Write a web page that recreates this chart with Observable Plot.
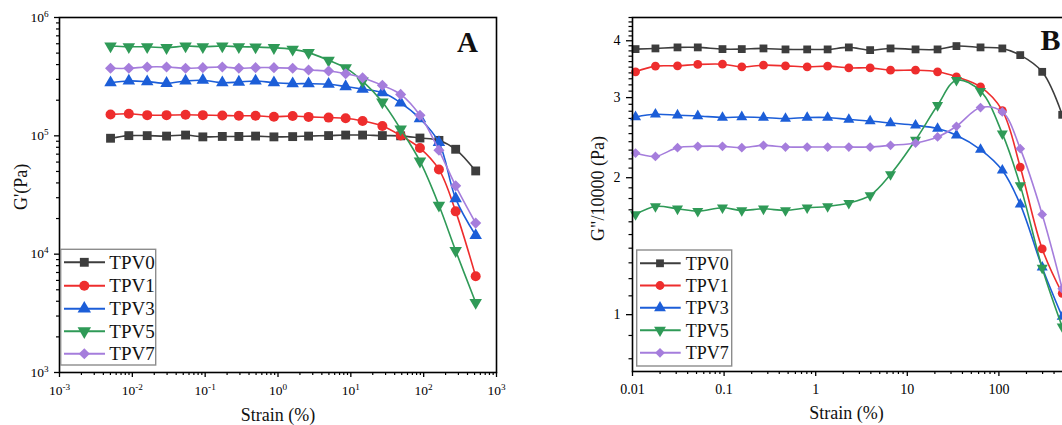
<!DOCTYPE html>
<html><head><meta charset="utf-8">
<script src="https://cdn.jsdelivr.net/npm/d3@7"></script>
<script src="https://cdn.jsdelivr.net/npm/@observablehq/plot@0.6"></script>
<style>
html,body{margin:0;padding:0;background:#fff;overflow:hidden;width:1062px;height:425px}
#wrap{position:relative;width:1062px;height:425px;overflow:hidden;background:#fff}
#a{position:absolute;left:0;top:0;width:540px;height:425px}
#b{position:absolute;left:540px;top:0;width:560px;height:425px}
#wrap svg{max-width:none !important;display:block}
#wrap svg text{font-family:"Liberation Serif","Times New Roman",serif !important}
</style></head><body><div id="wrap"><div id="a"></div><div id="b"></div></div>
<script>
// ---------- data ----------
const seriesNames = ["TPV0", "TPV1", "TPV3", "TPV5", "TPV7"];

// Panel A: storage modulus G' (Pa) vs strain (%)
const strainA = [0.00502, 0.00895, 0.0160, 0.0295, 0.0538, 0.0929, 0.172, 0.290, 0.492, 0.879, 1.59, 2.63, 4.95, 8.49, 14.5, 27.1, 48.3, 88.9, 162, 275, 518];
const gA_TPV0 = [95400, 100400, 100400, 99500, 101500, 98000, 98800, 98800, 99500, 98000, 98500, 99500, 100500, 101500, 101500, 100500, 100000, 95800, 91500, 77000, 50500];
const gA_TPV1 = [151700, 153500, 149600, 149600, 150600, 149600, 148700, 147700, 147700, 144800, 147000, 144600, 142600, 140800, 133600, 121000, 100500, 78800, 52000, 23000, 6500];
const gA_TPV3 = [281000, 291000, 287000, 278000, 291000, 295000, 281000, 285000, 291000, 281000, 276000, 276000, 273000, 261000, 248000, 232000, 190000, 140000, 88000, 29500, 14400];
const gA_TPV5 = [574000, 566000, 566000, 556000, 574000, 566000, 574000, 566000, 563000, 556000, 538000, 505000, 435000, 375000, 290000, 193000, 114000, 61000, 25900, 10700, 3900];
const gA_TPV7 = [372000, 372000, 382000, 382000, 372000, 377000, 382000, 372000, 377000, 377000, 372000, 360000, 353000, 335000, 310000, 267000, 224000, 149000, 75500, 37800, 18300];

// Panel B: loss modulus G''/10000 (Pa) vs strain (%)
const strainB = [0.0108, 0.0178, 0.031, 0.0516, 0.096, 0.156, 0.269, 0.468, 0.807, 1.35, 2.30, 3.93, 6.56, 12.3, 21.4, 34.4, 63.0, 109, 171, 297, 491];
const gB_TPV0 = [3.835, 3.848, 3.868, 3.868, 3.835, 3.835, 3.848, 3.829, 3.829, 3.829, 3.868, 3.815, 3.848, 3.829, 3.829, 3.894, 3.868, 3.848, 3.72, 3.418, 2.75];
const gB_TPV1 = [3.418, 3.518, 3.523, 3.548, 3.553, 3.505, 3.535, 3.523, 3.505, 3.518, 3.487, 3.487, 3.446, 3.446, 3.418, 3.332, 3.167, 2.81, 2.111, 1.395, 1.114];
const gB_TPV3 = [2.72, 2.757, 2.744, 2.734, 2.712, 2.72, 2.712, 2.698, 2.712, 2.712, 2.685, 2.665, 2.638, 2.607, 2.565, 2.48, 2.306, 2.076, 1.747, 1.27, 0.99];
const gB_TPV5 = [1.661, 1.729, 1.709, 1.689, 1.718, 1.695, 1.709, 1.695, 1.718, 1.729, 1.759, 1.829, 2.034, 2.42, 2.886, 3.277, 3.099, 2.50, 1.924, 1.267, 0.941];
const gB_TPV7 = [2.266, 2.228, 2.329, 2.344, 2.344, 2.329, 2.356, 2.336, 2.336, 2.336, 2.336, 2.336, 2.356, 2.384, 2.458, 2.595, 2.853, 2.79, 2.317, 1.661, 1.14];

// tick values / labels
const majorTicksAx = [1e-3, 1e-2, 1e-1, 1, 10, 100, 1000];
const majorTicksAy = [1e3, 1e4, 1e5, 1e6];
const majorTicksBx = [0.01, 0.1, 1, 10, 100];
const majorLabelsBx = ["0.01", "0.1", "1", "10", "100"];
const majorTicksBy = [1, 2, 3, 4];
const majorLabelsBy = ["1", "2", "3", "4"];

// ---------- styles ----------
const styles = {
  TPV0: {color: "#3d3d3d", symbol: "square", d3sym: d3.symbolSquare, rotate: 0},
  TPV1: {color: "#ee2d2d", symbol: "circle", d3sym: d3.symbolCircle, rotate: 0},
  TPV3: {color: "#1c5ed8", symbol: "triangle", d3sym: d3.symbolTriangle, rotate: 0},
  TPV5: {color: "#2f9a57", symbol: "triangle", d3sym: d3.symbolTriangle, rotate: 180},
  TPV7: {color: "#a57ddc", symbol: "diamond2", d3sym: d3.symbolDiamond2, rotate: 0}
};
const FONT = "Liberation Serif";

function minorLogTicks(lo, hi) {
  const out = [];
  for (let e = Math.floor(Math.log10(lo)); e <= Math.ceil(Math.log10(hi)); e++)
    for (let k = 2; k <= 9; k++) { const v = k * Math.pow(10, e); if (v > lo && v < hi) out.push(v); }
  return out;
}
function minorLinearTicks(lo, hi, step, majors) {
  const out = [];
  for (let i = Math.ceil(lo / step); i * step <= hi + 1e-9; i++) {
    const v = +(i * step).toFixed(6);
    if (!majors.includes(v)) out.push(v);
  }
  return out;
}

function buildRows(xs, arrays) {
  return seriesNames.flatMap((name, i) => xs.map((x, j) => ({series: name, x, y: arrays[i][j]})));
}

function seriesMarks(rows, r) {
  return seriesNames.flatMap(name => {
    const s = styles[name];
    const d = rows.filter(p => p.series === name);
    const rr = s.symbol === "triangle" ? r * 0.93 : r;
    return [
      Plot.line(d, {x: "x", y: "y", stroke: s.color, strokeWidth: 1.6, curve: "catmull-rom"}),
      Plot.dot(d, {x: "x", y: "y", symbol: s.symbol, r: rr, fill: s.color, stroke: "none", rotate: s.rotate})
    ];
  });
}

function addLegend(svg, o) {
  const g = d3.select(svg).append("g");
  g.append("rect").attr("x", o.x0).attr("y", o.y0).attr("width", o.w).attr("height", o.h)
    .attr("fill", "#fff").attr("stroke", "#8c8c8c").attr("stroke-width", 1.4);
  seriesNames.forEach((name, i) => {
    const s = styles[name];
    const y = o.rows[i];
    g.append("line").attr("x1", o.lx1).attr("x2", o.lx2).attr("y1", y).attr("y2", y)
      .attr("stroke", s.color).attr("stroke-width", 2);
    g.append("path").attr("d", d3.symbol(s.d3sym, Math.PI * o.r * o.r)())
      .attr("transform", `translate(${o.mx},${y}) rotate(${s.rotate})`).attr("fill", s.color);
    g.append("text").attr("x", o.tx).attr("y", y).attr("dy", "0.35em").attr("text-anchor", "start")
      .attr("font-size", o.fs).attr("fill", "#111").text(name);
  });
}

function superscriptTicks(svg) {
  d3.select(svg).selectAll("text").each(function () {
    const m = /^10\^(-?\d+)$/.exec(this.textContent);
    if (!m) return;
    const t = d3.select(this);
    t.text(null);
    t.append("tspan").text("10");
    t.append("tspan").attr("dy", "-0.55em").attr("font-size", "0.68em").text(m[1]);
  });
}

// ---------- Panel A ----------
const rowsA = buildRows(strainA, [gA_TPV0, gA_TPV1, gA_TPV3, gA_TPV5, gA_TPV7]);
const chartA = Plot.plot({
  width: 540, height: 425,
  marginLeft: 59, marginRight: 44, marginTop: 17, marginBottom: 53,
  style: {fontFamily: FONT, fontSize: "13.5px", color: "#000", background: "transparent", overflow: "visible"},
  x: {type: "log", domain: [1e-3, 1e3]},
  y: {type: "log", domain: [1e3, 1e6]},
  marks: [
    Plot.axisX({ticks: minorLogTicks(1e-3, 1e3), tickSize: 3, tickFormat: () => "", label: null, strokeWidth: 1.2}),
    Plot.axisX({ticks: majorTicksAx, tickSize: 5, tickPadding: 8, label: null, strokeWidth: 1.3,
      tickFormat: d => "10^" + Math.round(Math.log10(d))}),
    Plot.axisY({ticks: minorLogTicks(1e3, 1e6), tickSize: 3, tickFormat: () => "", label: null, strokeWidth: 1.2}),
    Plot.axisY({ticks: majorTicksAy, tickSize: 5, tickPadding: 6, label: null, strokeWidth: 1.3,
      tickFormat: d => "10^" + Math.round(Math.log10(d))}),
    ...seriesMarks(rowsA, 5),
    Plot.frame({stroke: "#000", strokeWidth: 1.6}),
    Plot.text(["Strain (%)"], {text: d => d, frameAnchor: "bottom", dy: 43, lineAnchor: "middle", fontSize: 18, fill: "#111"}),
    Plot.text(["G'(Pa)"], {text: d => d, frameAnchor: "left", dx: -38, dy: -8, rotate: -90, lineAnchor: "middle", textAnchor: "middle", fontSize: 18, fill: "#111"}),
    Plot.text(["A"], {text: d => d, frameAnchor: "top-right", dx: -29, dy: 25, lineAnchor: "middle", textAnchor: "middle", fontSize: 29, fontWeight: "bold", fill: "#111"})
  ]
});
superscriptTicks(chartA);
addLegend(chartA, {x0: 60.7, y0: 249.3, w: 95, h: 115.7, rows: [262.3, 285.8, 308.7, 331.2, 353.7],
  lx1: 64, lx2: 105, mx: 84.3, tx: 109.3, fs: 19, r: 5});
document.getElementById("a").appendChild(chartA);

// ---------- Panel B ----------
const rowsB = buildRows(strainB, [gB_TPV0, gB_TPV1, gB_TPV3, gB_TPV5, gB_TPV7]);
const chartB = Plot.plot({
  width: 560, height: 425,
  marginLeft: 92, marginRight: 10, marginTop: 17, marginBottom: 54,
  style: {fontFamily: FONT, fontSize: "14px", color: "#000", background: "transparent", overflow: "visible"},
  x: {type: "log", domain: [0.01, 1000]},
  y: {type: "log", domain: [0.75, 4.5]},
  marks: [
    Plot.axisX({ticks: minorLogTicks(0.01, 1000), tickSize: 3, tickFormat: () => "", label: null, strokeWidth: 1.2}),
    Plot.axisX({ticks: majorTicksBx, tickSize: 5, tickPadding: 8, label: null, strokeWidth: 1.3,
      tickFormat: d => majorLabelsBx[majorTicksBx.indexOf(d)]}),
    Plot.axisY({ticks: minorLinearTicks(0.75, 4.5, 0.1, majorTicksBy), tickSize: 3.5, tickFormat: () => "", label: null, strokeWidth: 1.2}),
    Plot.axisY({ticks: majorTicksBy, tickSize: 6, tickPadding: 6, label: null, strokeWidth: 1.3,
      tickFormat: d => majorLabelsBy[majorTicksBy.indexOf(d)]}),
    ...seriesMarks(rowsB, 4.4),
    Plot.frame({stroke: "#000", strokeWidth: 1.6}),
    Plot.text(["Strain (%)"], {text: d => d, frameAnchor: "bottom-left", dx: 214, dy: 42, lineAnchor: "middle", textAnchor: "middle", fontSize: 18, fill: "#111"}),
    Plot.text(['G"/10000 (Pa)'], {text: d => d, frameAnchor: "left", dx: -34, dy: -6, rotate: -90, lineAnchor: "middle", textAnchor: "middle", fontSize: 18, fill: "#111"}),
    Plot.text(["B"], {text: d => d, frameAnchor: "top-left", dx: 418, dy: 23, lineAnchor: "middle", textAnchor: "middle", fontSize: 30, fontWeight: "bold", fill: "#111"})
  ]
});
addLegend(chartB, {x0: 96.7, y0: 250, w: 95, h: 116, rows: [263.3, 285.5, 307.8, 330.2, 352.8],
  lx1: 100, lx2: 140.7, mx: 120, tx: 145.7, fs: 18, r: 4.4});
document.getElementById("b").appendChild(chartB);
</script>
</body></html>
